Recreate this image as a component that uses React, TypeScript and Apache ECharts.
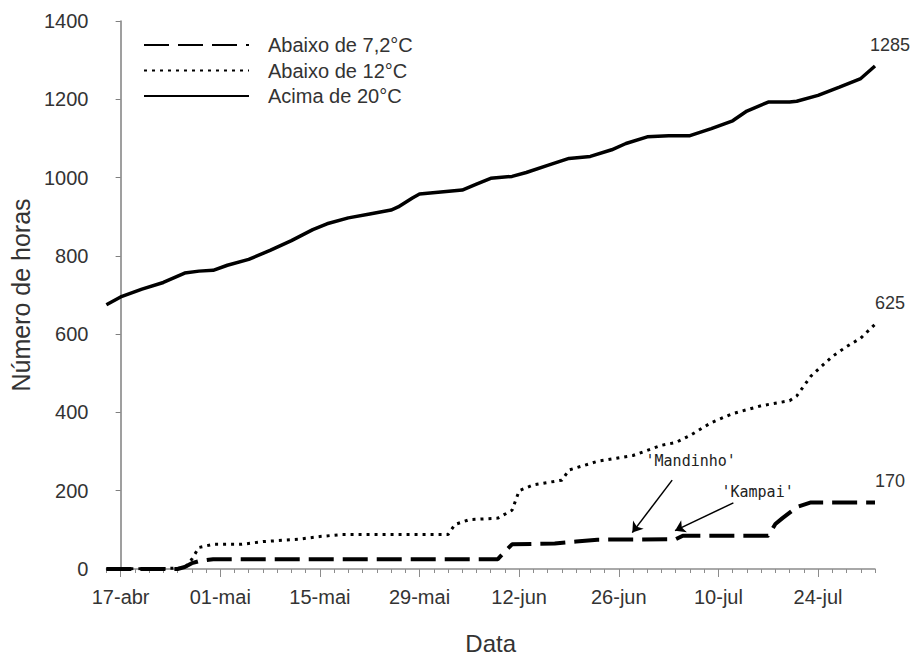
import React, { useEffect, useRef } from "react";
import * as echarts from "echarts";

const FONT = '"Liberation Sans", Arial, sans-serif';

// x values are days counted from 17-abr (day 0)
const tickLabels = ["17-abr", "01-mai", "15-mai", "29-mai", "12-jun", "26-jun", "10-jul", "24-jul"];
const tickStepDays = 14;
const xMinDay = -2;
const xMaxDay = 106;

const seriesNames = ["Abaixo de 7,2°C", "Abaixo de 12°C", "Acima de 20°C"];

const abaixo72: [number, number][] = [
  [-2, 0], [8, 0], [9, 5], [10, 15], [11, 20], [13, 25], [53, 25], [54, 45], [55, 63],
  [61, 65], [64, 70], [67, 75], [78, 76], [79, 85], [91, 85], [92, 115], [93, 130],
  [95, 158], [97, 170], [106, 170],
];

const abaixo12: [number, number][] = [
  [-2, 0], [9, 2], [10, 25], [11, 55], [13, 63], [17, 63], [20, 70], [25, 76], [28, 83],
  [31, 88], [46, 88], [47, 114], [49, 126], [53, 130], [55, 150], [56, 200], [58, 215],
  [62, 227], [63, 253], [67, 275], [72, 290], [76, 316], [78, 323], [80, 341], [83, 374],
  [86, 397], [90, 417], [94, 430], [95, 442], [97, 493], [100, 543], [102, 568],
  [104, 590], [106, 625],
];

const acima20: [number, number][] = [
  [-2, 675], [0, 695], [3, 715], [6, 732], [9, 756], [11, 761], [13, 763], [15, 776],
  [18, 791], [21, 814], [24, 839], [27, 867], [29, 882], [32, 897], [35, 907], [38, 917],
  [39, 925], [41, 948], [42, 958], [45, 963], [48, 968], [50, 983], [52, 998], [55, 1003],
  [57, 1013], [60, 1031], [63, 1049], [66, 1054], [69, 1071], [71, 1087], [74, 1104],
  [77, 1107], [80, 1107], [83, 1125], [86, 1145], [88, 1170], [91, 1193], [94, 1193],
  [95, 1195], [98, 1210], [101, 1231], [104, 1253], [106, 1285],
];

const endValues = [170, 625, 1285];

const annotationTexts = ["'Mandinho'", "'Kampai'"];
const annotationTextPos: [number, number][] = [[80.1, 277], [89.5, 196]];
const arrowFrom: [number, number][] = [[77.5, 227], [86.1, 169]];
const arrowTo: [number, number][] = [[71.9, 93], [77.9, 98]];

function endLabel(data: [number, number][], value: number) {
  const last = data[data.length - 1];
  return {
    symbol: "circle",
    symbolSize: 0,
    silent: true,
    data: [
      {
        coord: [last[0], value],
        value,
        label: {
          show: true,
          position: "inside",
          offset: [15, -21],
          formatter: String(value),
          fontSize: 18,
          color: "#333",
          fontFamily: FONT,
        },
      },
    ],
  };
}

export default function App() {
  const ref = useRef<HTMLDivElement>(null);

  useEffect(() => {
    if (!ref.current) return;
    const chart = echarts.init(ref.current, null, { renderer: "svg" });

    const dayCats: string[] = [];
    for (let d = xMinDay; d <= xMaxDay; d++) {
      dayCats.push(d >= 0 && d % tickStepDays === 0 && tickLabels[d / tickStepDays] ? tickLabels[d / tickStepDays] : "");
    }
    const isMajor = (_i: number, v: string) => v !== "";

    const annMarkPoint = {
      symbol: "circle",
      symbolSize: 0,
      silent: true,
      data: [
        ...annotationTexts.map((t, i) => ({
          coord: annotationTextPos[i],
          value: 0,
          label: {
            show: true,
            position: "inside",
            formatter: t,
            fontSize: 15,
            color: "#222",
            fontFamily: '"DejaVu Sans Mono", monospace',
          },
        })),
        endLabel(abaixo72, endValues[0]).data[0],
      ],
    };

    const option: any = {
      animation: false,
      backgroundColor: "#ffffff",
      textStyle: { fontFamily: FONT },
      grid: { left: 106, right: 42, top: 21, bottom: 83 },
      legend: {
        orient: "vertical",
        left: 138,
        top: 30,
        itemWidth: 105,
        itemHeight: 20,
        itemGap: 5.5,
        data: seriesNames,
        itemStyle: { opacity: 0 },
        textStyle: { fontSize: 20, color: "#333", fontFamily: FONT, padding: [0, 0, 0, 14] },
      },
      xAxis: [
        {
          type: "value",
          min: xMinDay,
          max: xMaxDay,
          interval: 2,
          axisLine: { show: true, onZero: false, lineStyle: { color: "#8c8c8c", width: 1.5 } },
          axisTick: { show: true, length: 4, lineStyle: { color: "#8c8c8c" } },
          axisLabel: { show: false },
          splitLine: { show: false },
          name: "Data",
          nameLocation: "middle",
          nameGap: 62,
          nameTextStyle: { fontSize: 24, color: "#333", fontFamily: FONT },
        },
        {
          type: "category",
          boundaryGap: false,
          data: dayCats,
          position: "bottom",
          axisLine: { show: false },
          axisTick: { show: true, interval: isMajor, length: 8, lineStyle: { color: "#8c8c8c" } },
          axisLabel: { show: true, interval: isMajor, fontSize: 20, color: "#333", margin: 18, fontFamily: FONT },
          splitLine: { show: false },
        },
      ],
      yAxis: {
        type: "value",
        min: 0,
        max: 1400,
        interval: 200,
        axisLine: { show: true, lineStyle: { color: "#7f7f7f", width: 1.5 } },
        axisTick: { show: true, length: 5, lineStyle: { color: "#7f7f7f" } },
        axisLabel: { fontSize: 20, color: "#333", margin: 18, fontFamily: FONT, formatter: (v: number) => String(v) },
        splitLine: { show: false },
        name: "Número de horas",
        nameLocation: "middle",
        nameGap: 72,
        nameTextStyle: { fontSize: 25, color: "#333", fontFamily: FONT },
      },
      series: [
        {
          name: seriesNames[0],
          type: "line",
          xAxisIndex: 0,
          data: abaixo72,
          symbol: "none",
          itemStyle: { color: "#000" },
          lineStyle: { color: "#000", width: 4, type: [25, 9], cap: "butt" },
          markPoint: annMarkPoint,
          markLine: {
            silent: true,
            symbol: ["none", "arrow"],
            symbolSize: 10,
            label: { show: false },
            lineStyle: { color: "#000", width: 1.5, type: "solid" },
            data: arrowFrom.map((f, i) => [{ coord: f }, { coord: arrowTo[i] }]),
          },
          z: 3,
        },
        {
          name: seriesNames[1],
          type: "line",
          xAxisIndex: 0,
          data: abaixo12,
          symbol: "none",
          itemStyle: { color: "#000" },
          lineStyle: { color: "#000", width: 3, type: [3, 5], cap: "butt" },
          markPoint: endLabel(abaixo12, endValues[1]),
          z: 3,
        },
        {
          name: seriesNames[2],
          type: "line",
          xAxisIndex: 0,
          data: acima20,
          symbol: "none",
          itemStyle: { color: "#000" },
          lineStyle: { color: "#000", width: 3.5 },
          markPoint: endLabel(acima20, endValues[2]),
          z: 3,
        },
      ],
    };

    chart.setOption(option);
    return () => chart.dispose();
  }, []);

  return (
    <div
      ref={ref}
      style={{ position: "fixed", left: 0, top: 0, width: 917, height: 660, background: "#fff" }}
    />
  );
}
